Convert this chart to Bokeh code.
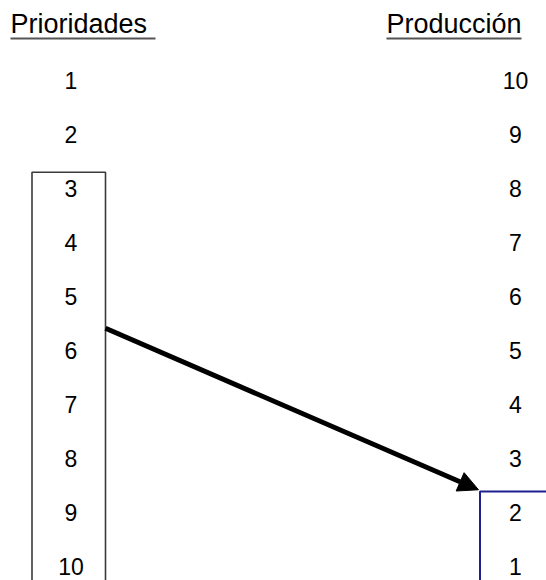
from bokeh.plotting import figure
from bokeh.models import Range1d, Arrow, NormalHead
from bokeh.core.properties import value
from bokeh.embed import file_html
from bokeh.resources import INLINE

# ---- data ----
header_left = "Prioridades"
header_right = "Producción"
rows = [1, 2, 3, 4, 5, 6, 7, 8, 9, 10]
prioridades = ["1", "2", "3", "4", "5", "6", "7", "8", "9", "10"]
produccion = ["10", "9", "8", "7", "6", "5", "4", "3", "2", "1"]
left_box_first_row = 3      # prioridades 3..10 enmarcadas
right_box_first_row = 9     # producción 2..1 enmarcada
arrow_rows = (5.58, 8.57)   # from between 5/6 (left) to top of box (right)

FONT = value("Liberation Sans")

p = figure(width=546, height=580, output_backend="svg", toolbar_location=None,
           x_range=Range1d(0, 546), y_range=Range1d(10.25, -0.4907),
           x_axis_location=None, y_axis_location=None, min_border=0,
           background_fill_color="white", border_fill_color="white")
p.grid.visible = False
p.outline_line_color = None

# headers
p.text(x=[10], y=[0], text=[header_left], text_font=FONT, text_font_size="27px",
       text_align="left", text_baseline="middle", y_offset=-2.5, text_color="black")
p.text(x=[386], y=[0], text=[header_right], text_font=FONT, text_font_size="27px",
       text_align="left", text_baseline="middle", y_offset=-2.5, text_color="black")
p.segment(x0=[10, 386], y0=[0.213, 0.213], x1=[155, 521], y1=[0.213, 0.213],
          line_color="#555555", line_width=2)

# number columns
p.text(x=[70.5] * len(rows), y=rows, text=prioridades, text_font=FONT,
       text_font_size="23px", text_align="center", text_baseline="middle",
       text_color="black")
p.text(x=[515] * len(rows), y=rows, text=produccion, text_font=FONT,
       text_font_size="23px", text_align="center", text_baseline="middle",
       text_color="black")

# boxes
lt = left_box_first_row - 0.31
p.line(x=[31.5, 31.5, 105, 105], y=[10.6, lt, lt, 10.6],
       line_color="#3a3a3a", line_width=1.6)
rt = right_box_first_row - 0.4
p.line(x=[479.5, 479.5, 560], y=[10.6, rt, rt],
       line_color="#1f1f8f", line_width=2)

# arrow
p.add_layout(Arrow(end=NormalHead(size=20, fill_color="black", line_color="black", line_width=1),
                   x_start=105, y_start=arrow_rows[0], x_end=478, y_end=arrow_rows[1],
                   line_width=5, line_color="black"))

open("out.html", "w").write(file_html(p, INLINE))
